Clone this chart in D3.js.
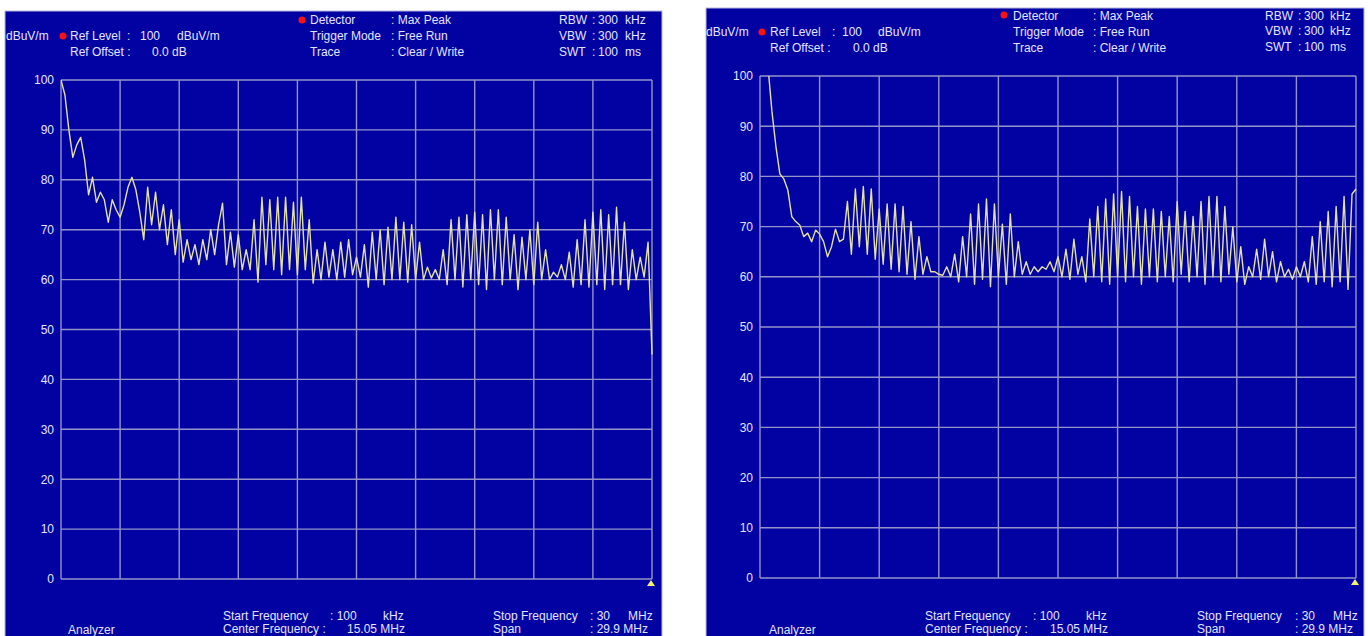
<!DOCTYPE html>
<html><head><meta charset="utf-8">
<script src="https://cdn.jsdelivr.net/npm/d3@7"></script>
<style>body{margin:0;background:#fff;} svg{display:block;}</style>
</head><body><svg id="c" width="1368" height="636"></svg>
<script>
// ---------- data ----------
const startFreqMHz = 0.1;
const stopFreqMHz = 30;
const yTicks = [0, 10, 20, 30, 40, 50, 60, 70, 80, 90, 100];
const xDivisions = [0, 1, 2, 3, 4, 5, 6, 7, 8, 9, 10];

// trace levels (dBuV/m), equally spaced from start to stop frequency
const levelsLeft = [
  100, 97, 90, 84.5, 87, 88.5, 84, 77, 80.5, 75.5,
  77.5, 76, 71.5, 76, 74, 72.5, 75, 78.5, 80.5, 78,
  73.5, 68, 78.5, 71, 77.5, 70, 75, 67, 74, 65,
  72, 63.5, 68, 64, 67, 63, 68, 64, 70, 65,
  71, 75.3, 63, 69.5, 62.5, 69, 62, 66, 62, 72,
  59.5, 76.5, 63, 76, 62, 76.5, 61, 76.5, 62, 75.5,
  61, 76.5, 62, 72, 59.3, 66, 60, 67.5, 60.5, 66,
  60, 67.5, 60.5, 68, 61, 64.5, 60.5, 67, 58.5, 69.5,
  60, 70, 59, 70.5, 60, 72.5, 60, 71.5, 59.5, 71,
  60, 67.5, 60, 62.5, 60.3, 62, 60, 66, 59, 72,
  60, 72.5, 58.5, 73, 60, 73.5, 59, 73, 58, 74,
  60, 74, 59, 72.5, 60, 69, 58, 68.5, 60, 70,
  59, 71.5, 60, 66, 60, 61.5, 60.5, 63, 60, 65.5,
  58.5, 68, 59, 72, 58.5, 73.5, 59, 74, 58, 73,
  59, 74.5, 59, 71.5, 58, 66, 60, 64.5, 60.5, 67.5,
  45
];
const levelsRight = [
  108, 105, 102, 93, 86, 80.5, 79.5, 77.3, 72, 71,
  70.3, 68, 68.7, 67, 69.3, 68.5, 67, 64, 66, 69.5,
  67, 67.5, 75, 64.5, 77.5, 66, 78, 64.5, 77.5, 63.5,
  73.5, 62.5, 74.5, 61.5, 74.5, 61, 74, 60.5, 71, 59.5,
  68, 60.5, 64, 61, 61, 60.5, 60.3, 62, 60, 64.5,
  59, 68, 60, 72.5, 58.5, 74.5, 59.5, 75.5, 58, 74.5,
  60, 70.5, 58.5, 72.5, 60, 67, 60.5, 63, 60.5, 62,
  61, 62, 61.5, 63, 61, 64, 60, 65.5, 59.5, 67.5,
  60.5, 64, 59, 71.5, 60, 74, 59, 75.5, 58.5, 76.5,
  60, 77, 59, 76, 60, 74, 58.5, 73.5, 60, 73.5,
  59, 73, 60, 72, 59, 75, 60.5, 73, 59, 72,
  60, 75, 58.5, 76, 60, 76, 59, 74, 60.5, 70,
  59, 66, 58.5, 62, 60, 65.5, 59.5, 67.5, 60, 65,
  59, 63, 60, 61.5, 59.5, 62, 60, 63, 59, 68,
  58.5, 71, 59, 73, 58, 74, 59, 76, 57.5, 76.5,
  77.5
];

// ---------- texts ----------
const unitLabel = "dBuV/m";
const refLevelParts = ["Ref Level", ":", "100", "dBuV/m"];
const refOffsetParts = ["Ref Offset :", "0.0 dB"];
const detectorRows = [["Detector", ": Max Peak"], ["Trigger Mode", ": Free Run"], ["Trace", ": Clear / Write"]];
const bandwidthRows = [["RBW", ":", "300", "kHz"], ["VBW", ":", "300", "kHz"], ["SWT", ":", "100", "ms"]];
const startRow = ["Start Frequency", ": 100", "kHz"];
const stopRow = ["Stop Frequency", ": 30", "MHz"];
const centerRow = ["Center Frequency :", "15.05 MHz"];
const spanRow = ["Span", ": 29.9 MHz"];
const analyzerLabel = "Analyzer";

// ---------- layout ----------
const panels = [
  { levels: levelsLeft,
    box: {x: 5, y: 11, w: 657, h: 640},
    plot: {l: 61, r: 652, t: 80, b: 579},
    unit: [6, 40], refDot: [63, 36], refX: [70, 127, 140, 177], refY: 40,
    offX: [70, 152], offY: 56, detDot: [302, 20], detX: [310, 391], detY: [24, 40, 56],
    bwX: [559, 592, 598, 625], bwY: [24, 40, 56],
    startX: [223, 330, 383], stopX: [493, 590, 628], centerX: [223, 347], spanX: [493, 590],
    analyzerX: 68, row1Y: 620, row2Y: 633, analyzerY: 634 },
  { levels: levelsRight,
    box: {x: 706, y: 8, w: 658, h: 640},
    plot: {l: 760, r: 1356, t: 76, b: 578},
    unit: [706, 36], refDot: [762, 32], refX: [770, 832, 842, 878], refY: 36,
    offX: [770, 853], offY: 52, detDot: [1004, 15], detX: [1013, 1093], detY: [20, 36, 52],
    bwX: [1265, 1298, 1304, 1330], bwY: [20, 35, 51],
    startX: [925, 1033, 1086], stopX: [1197, 1295, 1333], centerX: [925, 1050], spanX: [1197, 1295],
    analyzerX: 769, row1Y: 620, row2Y: 633, analyzerY: 634 }
];

const BG = "#0202a2", GRID = "#9494c8", TXT = "#e4e4ff", TRACE = "#e2e2a2";
const svg = d3.select("#c");
const FONT = "'Liberation Sans', Arial, sans-serif";

panels.forEach((p, pi) => {
  const g = svg.append("g");
  g.append("rect").attr("x", p.box.x).attr("y", p.box.y).attr("width", p.box.w).attr("height", p.box.h)
    .attr("fill", BG).attr("stroke", "#b8b8e0").attr("stroke-width", 1);

  const x = d3.scaleLinear().domain([startFreqMHz, stopFreqMHz]).range([p.plot.l, p.plot.r]);
  const y = d3.scaleLinear().domain([0, 100]).range([p.plot.b, p.plot.t]);
  const xd = d3.scaleLinear().domain([0, 10]).range([p.plot.l, p.plot.r]);

  // grid
  g.append("g").selectAll("line").data(yTicks).join("line")
    .attr("x1", p.plot.l).attr("x2", p.plot.r).attr("y1", d => y(d)).attr("y2", d => y(d))
    .attr("stroke", GRID).attr("stroke-width", 1.4);
  g.append("g").selectAll("line").data(xDivisions).join("line")
    .attr("x1", d => xd(d)).attr("x2", d => xd(d)).attr("y1", p.plot.t).attr("y2", p.plot.b)
    .attr("stroke", GRID).attr("stroke-width", 1.4);

  // y tick labels via axis
  const ax = d3.axisLeft(y).tickValues(yTicks).tickSize(0).tickPadding(7).tickFormat(d3.format("d"));
  const axg = g.append("g").attr("transform", `translate(${p.plot.l},0)`).call(ax);
  axg.select(".domain").remove();
  axg.selectAll("text").attr("fill", TXT).attr("font-size", 12).attr("font-family", FONT);

  // trace
  const clipId = "clip" + pi;
  svg.append("clipPath").attr("id", clipId).append("rect")
    .attr("x", p.plot.l).attr("y", p.plot.t).attr("width", p.plot.r - p.plot.l + 1).attr("height", p.plot.b - p.plot.t);
  const n = p.levels.length;
  const freqOf = i => startFreqMHz + (stopFreqMHz - startFreqMHz) * i / (n - 1);
  const line = d3.line().x((d, i) => x(freqOf(i))).y(d => y(d));
  g.append("path").attr("d", line(p.levels)).attr("clip-path", `url(#${clipId})`)
    .attr("fill", "none").attr("stroke", TRACE).attr("stroke-width", 1.4).attr("stroke-linejoin", "round");

  // marker triangle at stop frequency
  const tx = x(stopFreqMHz) - 1, ty = p.plot.b;
  g.append("path").attr("d", `M${tx - 4},${ty + 7}L${tx + 4},${ty + 7}L${tx},${ty + 1}Z`).attr("fill", "#f0f070");

  // texts
  const T = (s, xx, yy) => g.append("text").attr("x", xx).attr("y", yy).text(s)
    .attr("fill", TXT).attr("font-size", 12).attr("font-family", FONT);
  T(unitLabel, p.unit[0], p.unit[1]);
  g.append("circle").attr("cx", p.refDot[0]).attr("cy", p.refDot[1]).attr("r", 3.5).attr("fill", "#ff1010");
  g.append("circle").attr("cx", p.detDot[0]).attr("cy", p.detDot[1]).attr("r", 3.5).attr("fill", "#ff1010");
  refLevelParts.forEach((s, i) => T(s, p.refX[i], p.refY));
  refOffsetParts.forEach((s, i) => T(s, p.offX[i], p.offY));
  detectorRows.forEach((r, j) => r.forEach((s, i) => T(s, p.detX[i], p.detY[j])));
  bandwidthRows.forEach((r, j) => r.forEach((s, i) => T(s, p.bwX[i], p.bwY[j])));
  startRow.forEach((s, i) => T(s, p.startX[i], p.row1Y));
  stopRow.forEach((s, i) => T(s, p.stopX[i], p.row1Y));
  centerRow.forEach((s, i) => T(s, p.centerX[i], p.row2Y));
  spanRow.forEach((s, i) => T(s, p.spanX[i], p.row2Y));
  T(analyzerLabel, p.analyzerX, p.analyzerY);
});
</script>
</body></html>
